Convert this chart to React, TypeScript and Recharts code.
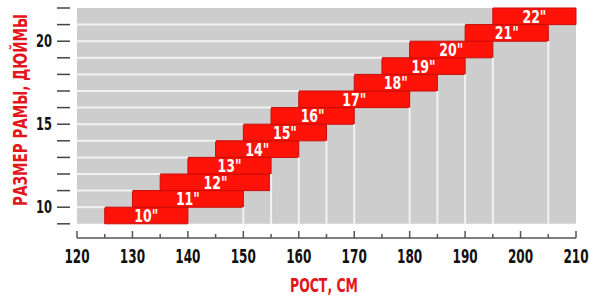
import { ComposedChart, XAxis, YAxis, ReferenceArea, ReferenceLine, Label, Scatter } from "recharts";

// frame size (inches) and recommended height range (cm)
const sizes = [10, 11, 12, 13, 14, 15, 16, 17, 18, 19, 20, 21, 22];
const heightFrom = [125, 130, 135, 140, 145, 150, 155, 160, 170, 175, 180, 190, 195];
const heightTo = [140, 150, 155, 155, 160, 165, 170, 180, 185, 190, 195, 205, 210];

const xTicks = [120, 125, 130, 135, 140, 145, 150, 155, 160, 165, 170, 175, 180, 185, 190, 195, 200, 205, 210];
const yTicks = [9, 10, 11, 12, 13, 14, 15, 16, 17, 18, 19, 20, 21, 22];
const yLabeled = [10, 15, 20];

const data = sizes.map((s, i) => ({ x: (heightFrom[i] + heightTo[i]) / 2, y: s - 0.5 }));

const FONT = "'DejaVu Sans', sans-serif";
const RED = "#e3161c";
const GRID = "#f2f2f2";

// the original uses a condensed face, so squeeze the glyphs
const XTick = (props: any) => {
  const { x, y, payload } = props;
  const major = payload.value % 10 === 0;
  const txt = String(payload.value);
  return (
    <g>
      <line x1={x} x2={x} y1={y - (major ? 7 : 4)} y2={y} stroke="#555" strokeWidth={1.5} />
      {major && (
        <text
          x={x}
          y={y + 25}
          textAnchor="middle"
          fontSize={19}
          fontWeight={700}
          fill="#111"
          fontFamily={FONT}
          textLength={txt.length * 8.4}
          lengthAdjust="spacingAndGlyphs"
        >
          {txt}
        </text>
      )}
    </g>
  );
};

const YTick = (props: any) => {
  const { x, y, payload } = props;
  const show = yLabeled.includes(payload.value);
  return (
    <g>
      <line x1={x - 20} x2={x - 7} y1={y} y2={y} stroke="#444" strokeWidth={1.5} />
      {show && (
        <text
          x={x - 25}
          y={y + 6}
          textAnchor="end"
          fontSize={17}
          fontWeight={700}
          fill="#111"
          fontFamily={FONT}
          textLength={16}
          lengthAdjust="spacingAndGlyphs"
        >
          {payload.value}
        </text>
      )}
    </g>
  );
};

const barLabel = (text: string) => (p: any) => {
  const vb = p.viewBox || {};
  return (
    <text
      x={vb.x + vb.width / 2}
      y={vb.y + vb.height / 2 + 6.5}
      textAnchor="middle"
      fontSize={18}
      fontWeight={700}
      fill="#fff"
      fontFamily={FONT}
      textLength={24}
      lengthAdjust="spacingAndGlyphs"
    >
      {text}
    </text>
  );
};

export default function App() {
  return (
    <div style={{ position: "absolute", left: 0, top: 0, background: "#fff" }}>
      <ComposedChart width={598} height={302} data={data} margin={{ top: 8, right: 22, bottom: 0, left: 0 }}>
        <XAxis
          type="number"
          dataKey="x"
          domain={[120, 210]}
          ticks={xTicks}
          interval={0}
          tick={<XTick />}
          tickLine={false}
          tickSize={0}
          tickMargin={0}
          axisLine={{ stroke: "#555", strokeWidth: 1.5 }}
          height={64}
        >
          <Label
            content={() => (
              <text x={324} y={292} textAnchor="middle" fontSize={20} fontWeight={700} fill={RED} fontFamily={FONT} textLength={68} lengthAdjust="spacingAndGlyphs">
                РОСТ, СМ
              </text>
            )}
          />
        </XAxis>
        <YAxis
          type="number"
          dataKey="y"
          domain={[8.145, 22]}
          ticks={yTicks}
          interval={0}
          tick={<YTick />}
          tickLine={false}
          tickSize={0}
          tickMargin={0}
          axisLine={false}
          width={77}
        >
          <Label
            content={() => (
              <text
                x={20}
                y={110}
                transform="rotate(-90 20 110)"
                textAnchor="middle"
                dominantBaseline="central"
                fontSize={20}
                fontWeight={700}
                fill={RED}
                fontFamily={FONT}
                textLength={192}
                lengthAdjust="spacingAndGlyphs"
              >
                РАЗМЕР РАМЫ, ДЮЙМЫ
              </text>
            )}
          />
        </YAxis>

        <ReferenceArea x1={120} x2={210} y1={9} y2={22} fill="#cdcdcd" fillOpacity={1} stroke="none" />

        {sizes.slice(0, -1).map((s, i) => (
          <ReferenceLine
            key={"h" + s}
            segment={[{ x: 120, y: s }, { x: heightFrom[i], y: s }]}
            stroke={GRID}
            strokeWidth={2}
          />
        ))}
        {sizes.slice(0, -1).map((s, i) =>
          s - 1 > 9 ? (
            <ReferenceLine
              key={"v" + s}
              segment={[{ x: heightTo[i], y: 9 }, { x: heightTo[i], y: s - 1 }]}
              stroke={GRID}
              strokeWidth={2}
            />
          ) : null
        )}

        {sizes.map((s, i) => (
          <ReferenceArea
            key={"b" + s}
            x1={heightFrom[i]}
            x2={heightTo[i]}
            y1={s - 1}
            y2={s}
            fill="#ff1208"
            fillOpacity={1}
            stroke="#c80d08"
            strokeWidth={1}
            label={barLabel(s + '"')}
          />
        ))}

        <Scatter dataKey="y" shape={() => <g />} isAnimationActive={false} legendType="none" />
      </ComposedChart>
    </div>
  );
}
